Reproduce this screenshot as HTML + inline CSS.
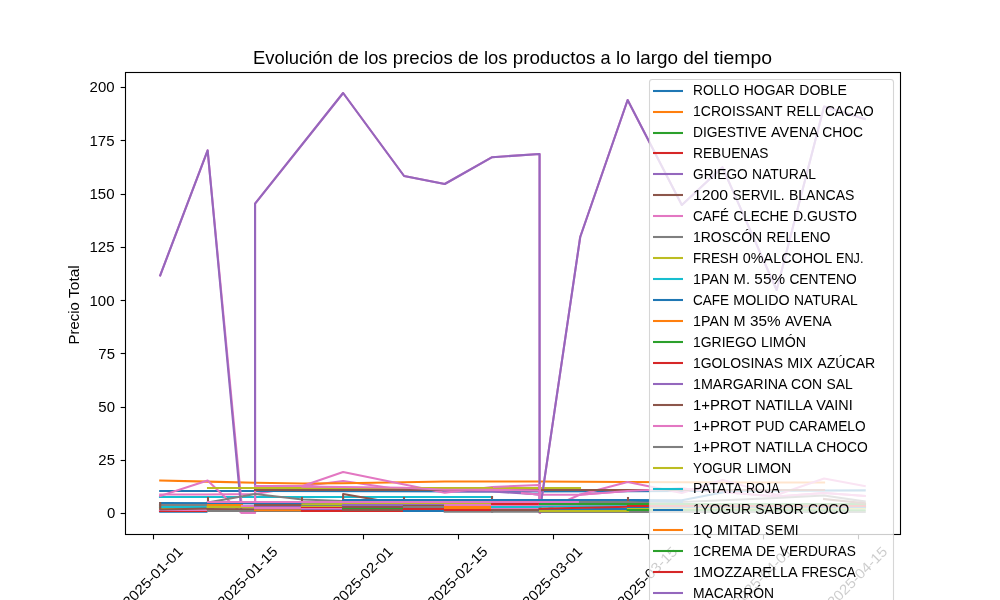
<!DOCTYPE html>
<html lang="es"><head><meta charset="utf-8"><title>Evolución de los precios de los productos a lo largo del tiempo</title>
<style>
html,body{margin:0;padding:0;background:#fff;}
body{width:1000px;height:600px;overflow:hidden;font-family:"Liberation Sans",sans-serif;}
svg{display:block;will-change:transform;}
text{font-family:"Liberation Sans",sans-serif;fill:#000;}
.t10{font-size:14.15px;}
.t12{font-size:17.70px;}
.ln{fill:none;stroke-width:2.083;stroke-linejoin:round;stroke-linecap:square;}
.lh{fill:none;stroke-width:2.083;stroke-linecap:square;}
.tk{stroke:#000;stroke-width:1.111;}
</style></head><body>
<svg width="1000" height="600" viewBox="0 0 1000 600">
<rect x="0" y="0" width="1000" height="600" fill="#ffffff"/>
<defs><clipPath id="ax"><rect x="125" y="72" width="775" height="462"/></clipPath></defs>
<g clip-path="url(#ax)">
<polyline class="ln" stroke="#e377c2" points="160.22,494.50 207.64,494.50 255.06,494.00 302.48,486.30 343.12,481.00 404.09,490.00 444.73,489.50 492.15,489.50 539.57,494.70 580.21,494.70 627.63,491.00 681.82,488.50 722.47,492.00 776.66,496.50 824.08,493.00 864.72,496.00"/>
<polyline class="ln" stroke="#ff7f0e" points="160.22,480.60 207.64,481.60 255.06,482.80 302.48,483.50 343.12,483.20 404.09,482.20 444.73,481.50 492.15,481.50 539.57,481.50 580.21,481.80 627.63,482.00 681.82,482.30 722.47,482.50 776.66,482.50 824.08,482.50"/>
<polyline class="ln" stroke="#1f77b4" points="160.22,491.00 255.06,491.00 492.15,491.40 627.63,491.30 864.72,490.40"/>
<polyline class="ln" stroke="#17becf" points="160.00,497.00 492.00,497.00"/>
<polyline class="ln" stroke="#bcbd22" points="492.00,488.00 580.00,488.00"/>
<polyline class="ln" stroke="#e377c2" points="160.22,275.30 207.64,150.40 241.76,505.80 255.06,505.80 255.06,203.70 343.12,93.00 404.09,176.00 444.73,184.00 492.15,157.20 539.57,154.00 539.57,512.50 580.21,237.00 627.63,100.00 681.82,205.00 722.47,167.30 776.66,290.00 824.08,106.50 864.72,119.00"/>
<polyline class="ln" stroke="#9467bd" points="160.22,275.30 207.64,150.40 241.51,512.30 255.06,512.30 255.06,203.70 343.12,93.00 404.09,176.00 444.73,184.00 492.15,157.20 539.57,154.00 539.57,512.50 580.21,237.00 627.63,100.00 681.82,205.00 722.47,167.30 776.66,290.00 824.08,106.50 864.72,119.00"/>
<polyline class="ln" stroke="#9467bd" points="444.73,491.50 492.15,491.50 539.57,494.50"/>
<polyline class="ln" stroke="#e377c2" points="160.22,496.00 207.64,480.50 241.51,513.00 255.06,513.00 255.06,486.00 302.48,486.00 343.12,472.00 444.73,492.70 492.15,487.00 539.57,485.00 539.57,512.60 580.21,494.50 627.63,482.00 681.82,493.00 722.47,480.00 776.66,495.00 824.08,478.50 864.72,486.00"/>
<polyline class="ln" stroke="#bcbd22" points="208.00,488.00 492.00,488.00"/>
<polyline class="ln" stroke="#8c564b" points="255.00,490.00 824.00,490.00"/>
<polyline class="ln" stroke="#e377c2" points="580.21,494.70 627.63,491.00 681.82,488.50 722.47,492.00 776.66,496.50 824.08,493.00 864.72,496.00"/>
<polyline class="ln" stroke="#e377c2" points="522.00,493.00 539.57,494.70"/>
<polyline class="ln" stroke="#e377c2" points="540.00,485.00 540.00,513.00"/>
<polyline class="ln" stroke="#7f7f7f" points="207.64,502.50 255.06,494.00 302.48,499.50 343.12,501.00 404.09,502.00 580.21,502.00 681.82,502.00 776.66,498.00 824.08,495.50 864.72,501.50"/>
<polyline class="ln" stroke="#e377c2" points="302.48,486.60 343.12,487.00 404.09,487.80 444.73,489.70 492.15,489.90 539.57,490.60"/>
<polyline class="ln" stroke="#8c564b" points="208.00,503.00 208.00,498.00"/>
<polyline class="ln" stroke="#8c564b" points="302.00,500.00 302.00,498.00"/>
<polyline class="ln" stroke="#8c564b" points="343.12,500.00 343.12,494.00 404.09,504.50"/>
<polyline class="ln" stroke="#8c564b" points="404.00,499.00 404.00,498.00"/>
<polyline class="ln" stroke="#8c564b" points="492.00,498.00 492.00,497.00"/>
<polyline class="ln" stroke="#1f77b4" points="160.22,503.00 302.48,503.30 343.12,503.30 343.12,500.00 627.63,500.00 681.82,500.30 722.47,492.50"/>
<polyline class="ln" stroke="#1f77b4" points="627.63,500.00 681.82,502.00"/>
<polyline class="ln" stroke="#1f77b4" points="160.22,511.80 206.44,511.81"/>
<polyline class="ln" stroke="#d62728" points="160.00,511.00 208.00,511.00"/>
<polyline class="ln" stroke="#e377c2" points="160.00,510.00 208.00,510.00"/>
<polyline class="ln" stroke="#bcbd22" points="160.00,508.00 208.00,508.00"/>
<polyline class="ln" stroke="#7f7f7f" points="160.00,505.00 208.00,505.00"/>
<polyline class="ln" stroke="#17becf" points="160.00,507.00 208.00,507.00"/>
<polyline class="ln" stroke="#8c564b" points="160.22,503.00 160.22,509.50 207.64,508.60"/>
<polyline class="ln" stroke="#ff7f0e" points="208.00,505.00 242.00,505.00"/>
<polyline class="ln" stroke="#bcbd22" points="207.64,506.90 255.06,507.10"/>
<polyline class="ln" stroke="#8c564b" points="207.64,509.00 255.06,509.20"/>
<polyline class="ln" stroke="#7f7f7f" points="208.00,511.00 255.00,511.00"/>
<polyline class="ln" stroke="#e377c2" points="242.00,506.00 255.00,506.00"/>
<polyline class="ln" stroke="#1f77b4" points="255.00,511.00 302.00,511.00"/>
<polyline class="ln" stroke="#8c564b" points="255.00,505.00 302.00,505.00"/>
<polyline class="ln" stroke="#9467bd" points="255.00,507.00 302.00,507.00"/>
<polyline class="ln" stroke="#7f7f7f" points="255.00,509.00 302.00,509.00"/>
<polyline class="ln" stroke="#e377c2" points="255.00,508.00 302.00,508.00"/>
<polyline class="ln" stroke="#ff7f0e" points="255.06,510.50 302.48,510.51"/>
<polyline class="ln" stroke="#bcbd22" points="302.48,504.20 343.12,504.00"/>
<polyline class="ln" stroke="#7f7f7f" points="302.00,506.00 343.00,506.00"/>
<polyline class="ln" stroke="#bcbd22" points="302.00,507.00 343.00,507.00"/>
<polyline class="ln" stroke="#d62728" points="302.00,508.00 343.00,508.00"/>
<polyline class="ln" stroke="#e377c2" points="302.00,509.00 343.00,509.00"/>
<polyline class="ln" stroke="#9467bd" points="302.00,510.00 343.00,510.00"/>
<polyline class="ln" stroke="#d62728" points="302.00,511.00 343.00,511.00"/>
<polyline class="ln" stroke="#bcbd22" points="343.12,503.50 492.15,503.30"/>
<polyline class="ln" stroke="#d62728" points="343.00,511.00 404.00,511.00"/>
<polyline class="ln" stroke="#2ca02c" points="343.00,508.00 404.00,508.00"/>
<polyline class="ln" stroke="#9467bd" points="343.00,505.00 404.00,505.00"/>
<polyline class="ln" stroke="#8c564b" points="343.00,507.00 404.00,507.00"/>
<polyline class="ln" stroke="#8c564b" points="343.00,510.00 404.00,510.00"/>
<polyline class="ln" stroke="#9467bd" points="404.00,505.00 445.00,505.00"/>
<polyline class="ln" stroke="#8c564b" points="404.00,506.00 445.00,506.00"/>
<polyline class="ln" stroke="#7f7f7f" points="404.00,507.00 445.00,507.00"/>
<polyline class="ln" stroke="#d62728" points="404.00,509.00 445.00,509.00"/>
<polyline class="ln" stroke="#1f77b4" points="404.00,511.00 445.00,511.00"/>
<polyline class="ln" stroke="#7f7f7f" points="444.73,511.60 492.15,511.61"/>
<polyline class="ln" stroke="#e377c2" points="445.00,505.00 492.00,505.00"/>
<polyline class="ln" stroke="#ff7f0e" points="445.00,507.00 492.00,507.00"/>
<polyline class="ln" stroke="#ff7f0e" points="445.00,508.00 492.00,508.00"/>
<polyline class="ln" stroke="#d62728" points="445.00,510.00 492.00,510.00"/>
<polyline class="ln" stroke="#7f7f7f" points="492.15,511.60 539.57,511.61"/>
<polyline class="ln" stroke="#e377c2" points="492.00,505.00 540.00,505.00"/>
<polyline class="ln" stroke="#e377c2" points="492.00,509.00 540.00,509.00"/>
<polyline class="ln" stroke="#d62728" points="492.00,504.00 540.00,504.00"/>
<polyline class="ln" stroke="#17becf" points="492.00,507.00 540.00,507.00"/>
<polyline class="ln" stroke="#8c564b" points="492.00,510.00 540.00,510.00"/>
<polyline class="ln" stroke="#7f7f7f" points="539.57,512.00 864.72,511.90"/>
<polyline class="ln" stroke="#e377c2" points="539.57,505.60 627.63,505.40"/>
<polyline class="ln" stroke="#17becf" points="539.57,506.80 627.63,506.40"/>
<polyline class="ln" stroke="#1f77b4" points="539.57,509.60 627.63,508.90"/>
<polyline class="ln" stroke="#d62728" points="539.57,508.70 627.63,506.80"/>
<polyline class="ln" stroke="#bcbd22" points="540.00,511.00 628.00,511.00"/>
<polyline class="ln" stroke="#2ca02c" points="540.00,504.00 865.00,504.00"/>
<polyline class="ln" stroke="#bcbd22" points="628.00,508.00 865.00,508.00"/>
<polyline class="ln" stroke="#1f77b4" points="628.00,507.00 865.00,507.00"/>
<polyline class="ln" stroke="#2ca02c" points="627.63,510.00 864.72,510.20"/>
<polyline class="ln" stroke="#d62728" points="628.00,506.00 865.00,506.00"/>
<polyline class="ln" stroke="#2ca02c" points="628.00,504.00 865.00,504.00"/>
<polyline class="ln" stroke="#8c564b" points="628.00,501.00 628.00,498.00"/>
<polyline class="ln" stroke="#8c564b" points="824.08,499.00 864.72,503.30"/>
<polyline class="ln" stroke="#e377c2" points="208.00,502.00 580.00,502.00"/>
<polyline class="ln" stroke="#7f7f7f" points="580.00,502.00 628.00,502.00"/>
</g>
<g>
<line class="tk" x1="153.50" y1="534.5" x2="153.50" y2="539.36"/>
<line class="tk" x1="248.50" y1="534.5" x2="248.50" y2="539.36"/>
<line class="tk" x1="363.50" y1="534.5" x2="363.50" y2="539.36"/>
<line class="tk" x1="458.50" y1="534.5" x2="458.50" y2="539.36"/>
<line class="tk" x1="553.50" y1="534.5" x2="553.50" y2="539.36"/>
<line class="tk" x1="648.50" y1="534.5" x2="648.50" y2="539.36"/>
<line class="tk" x1="763.50" y1="534.5" x2="763.50" y2="539.36"/>
<line class="tk" x1="858.50" y1="534.5" x2="858.50" y2="539.36"/>
<line class="tk" x1="120.64" y1="513.50" x2="125.5" y2="513.50"/>
<line class="tk" x1="120.64" y1="460.50" x2="125.5" y2="460.50"/>
<line class="tk" x1="120.64" y1="407.50" x2="125.5" y2="407.50"/>
<line class="tk" x1="120.64" y1="353.50" x2="125.5" y2="353.50"/>
<line class="tk" x1="120.64" y1="300.50" x2="125.5" y2="300.50"/>
<line class="tk" x1="120.64" y1="247.50" x2="125.5" y2="247.50"/>
<line class="tk" x1="120.64" y1="194.50" x2="125.5" y2="194.50"/>
<line class="tk" x1="120.64" y1="140.50" x2="125.5" y2="140.50"/>
<line class="tk" x1="120.64" y1="87.50" x2="125.5" y2="87.50"/>
</g>
<rect x="125.5" y="72.5" width="775" height="462" fill="none" stroke="#000" stroke-width="1.111"/>
<g class="t10">
<text transform="translate(128.40,607.67) rotate(-45)" textLength="78.2" lengthAdjust="spacingAndGlyphs">2025-01-01</text>
<text transform="translate(223.24,607.67) rotate(-45)" textLength="78.2" lengthAdjust="spacingAndGlyphs">2025-01-15</text>
<text transform="translate(338.39,607.67) rotate(-45)" textLength="78.2" lengthAdjust="spacingAndGlyphs">2025-02-01</text>
<text transform="translate(433.23,607.67) rotate(-45)" textLength="78.2" lengthAdjust="spacingAndGlyphs">2025-02-15</text>
<text transform="translate(528.07,607.67) rotate(-45)" textLength="78.2" lengthAdjust="spacingAndGlyphs">2025-03-01</text>
<text transform="translate(622.90,607.67) rotate(-45)" textLength="78.2" lengthAdjust="spacingAndGlyphs">2025-03-15</text>
<text transform="translate(738.06,607.67) rotate(-45)" textLength="78.2" lengthAdjust="spacingAndGlyphs">2025-04-01</text>
<text transform="translate(832.90,607.67) rotate(-45)" textLength="78.2" lengthAdjust="spacingAndGlyphs">2025-04-15</text>
<text x="107.13" y="518.00" textLength="8.31" lengthAdjust="spacingAndGlyphs">0</text>
<text x="98.38" y="465.00" textLength="16.62" lengthAdjust="spacingAndGlyphs">25</text>
<text x="98.38" y="412.00" textLength="16.62" lengthAdjust="spacingAndGlyphs">50</text>
<text x="98.38" y="359.00" textLength="16.62" lengthAdjust="spacingAndGlyphs">75</text>
<text x="89.50" y="306.00" textLength="25.06" lengthAdjust="spacingAndGlyphs">100</text>
<text x="89.50" y="252.00" textLength="25.06" lengthAdjust="spacingAndGlyphs">125</text>
<text x="89.50" y="199.00" textLength="25.06" lengthAdjust="spacingAndGlyphs">150</text>
<text x="89.50" y="146.00" textLength="25.06" lengthAdjust="spacingAndGlyphs">175</text>
<text x="89.63" y="92.00" textLength="24.94" lengthAdjust="spacingAndGlyphs">200</text>
<text transform="translate(79.4,344.4) rotate(-90)"><tspan x="0.00" textLength="42.12" lengthAdjust="spacingAndGlyphs">Precio</tspan> <tspan x="46.50" textLength="32.62" lengthAdjust="spacingAndGlyphs">Total</tspan></text>
</g>
<text class="t12" y="63.67"><tspan x="252.94" textLength="79.88" lengthAdjust="spacingAndGlyphs">Evolución</tspan> <tspan x="338.06" textLength="20.75" lengthAdjust="spacingAndGlyphs">de</tspan> <tspan x="364.06" textLength="23.50" lengthAdjust="spacingAndGlyphs">los</tspan> <tspan x="392.82" textLength="59.88" lengthAdjust="spacingAndGlyphs">precios</tspan> <tspan x="457.94" textLength="20.75" lengthAdjust="spacingAndGlyphs">de</tspan> <tspan x="483.94" textLength="23.50" lengthAdjust="spacingAndGlyphs">los</tspan> <tspan x="512.69" textLength="82.62" lengthAdjust="spacingAndGlyphs">productos</tspan> <tspan x="600.56" textLength="10.12" lengthAdjust="spacingAndGlyphs">a</tspan> <tspan x="615.94" textLength="14.75" lengthAdjust="spacingAndGlyphs">lo</tspan> <tspan x="635.94" textLength="42.00" lengthAdjust="spacingAndGlyphs">largo</tspan> <tspan x="683.19" textLength="25.38" lengthAdjust="spacingAndGlyphs">del</tspan> <tspan x="713.82" textLength="58.25" lengthAdjust="spacingAndGlyphs">tiempo</tspan></text>
<rect x="649.5" y="79.5" width="244" height="560" rx="2.78" ry="2.78" fill="#ffffff" fill-opacity="0.8" stroke="#cccccc" stroke-opacity="0.8" stroke-width="1.111"/>
<g>
<line class="lh" stroke="#1f77b4" x1="654.04" y1="91.00" x2="681.96" y2="91.00"/>
<line class="lh" stroke="#ff7f0e" x1="654.04" y1="112.00" x2="681.96" y2="112.00"/>
<line class="lh" stroke="#2ca02c" x1="654.04" y1="133.00" x2="681.96" y2="133.00"/>
<line class="lh" stroke="#d62728" x1="654.04" y1="153.00" x2="681.96" y2="153.00"/>
<line class="lh" stroke="#9467bd" x1="654.04" y1="174.00" x2="681.96" y2="174.00"/>
<line class="lh" stroke="#8c564b" x1="654.04" y1="195.00" x2="681.96" y2="195.00"/>
<line class="lh" stroke="#e377c2" x1="654.04" y1="216.00" x2="681.96" y2="216.00"/>
<line class="lh" stroke="#7f7f7f" x1="654.04" y1="237.00" x2="681.96" y2="237.00"/>
<line class="lh" stroke="#bcbd22" x1="654.04" y1="258.00" x2="681.96" y2="258.00"/>
<line class="lh" stroke="#17becf" x1="654.04" y1="279.00" x2="681.96" y2="279.00"/>
<line class="lh" stroke="#1f77b4" x1="654.04" y1="300.00" x2="681.96" y2="300.00"/>
<line class="lh" stroke="#ff7f0e" x1="654.04" y1="321.00" x2="681.96" y2="321.00"/>
<line class="lh" stroke="#2ca02c" x1="654.04" y1="342.00" x2="681.96" y2="342.00"/>
<line class="lh" stroke="#d62728" x1="654.04" y1="363.00" x2="681.96" y2="363.00"/>
<line class="lh" stroke="#9467bd" x1="654.04" y1="384.00" x2="681.96" y2="384.00"/>
<line class="lh" stroke="#8c564b" x1="654.04" y1="405.00" x2="681.96" y2="405.00"/>
<line class="lh" stroke="#e377c2" x1="654.04" y1="426.00" x2="681.96" y2="426.00"/>
<line class="lh" stroke="#7f7f7f" x1="654.04" y1="447.00" x2="681.96" y2="447.00"/>
<line class="lh" stroke="#bcbd22" x1="654.04" y1="468.00" x2="681.96" y2="468.00"/>
<line class="lh" stroke="#17becf" x1="654.04" y1="489.00" x2="681.96" y2="489.00"/>
<line class="lh" stroke="#1f77b4" x1="654.04" y1="510.00" x2="681.96" y2="510.00"/>
<line class="lh" stroke="#ff7f0e" x1="654.04" y1="530.00" x2="681.96" y2="530.00"/>
<line class="lh" stroke="#2ca02c" x1="654.04" y1="551.00" x2="681.96" y2="551.00"/>
<line class="lh" stroke="#d62728" x1="654.04" y1="572.00" x2="681.96" y2="572.00"/>
<line class="lh" stroke="#9467bd" x1="654.04" y1="593.00" x2="681.96" y2="593.00"/>
</g>
<g class="t10">
<text y="95.00"><tspan x="693.00" textLength="46.38" lengthAdjust="spacingAndGlyphs">ROLLO</tspan> <tspan x="743.75" textLength="51.12" lengthAdjust="spacingAndGlyphs">HOGAR</tspan> <tspan x="799.25" textLength="47.75" lengthAdjust="spacingAndGlyphs">DOBLE</tspan></text>
<text y="116.00"><tspan x="693.00" textLength="89.25" lengthAdjust="spacingAndGlyphs">1CROISSANT</tspan> <tspan x="786.62" textLength="33.88" lengthAdjust="spacingAndGlyphs">RELL</tspan> <tspan x="824.88" textLength="48.88" lengthAdjust="spacingAndGlyphs">CACAO</tspan></text>
<text y="137.00"><tspan x="693.00" textLength="73.75" lengthAdjust="spacingAndGlyphs">DIGESTIVE</tspan> <tspan x="771.12" textLength="46.75" lengthAdjust="spacingAndGlyphs">AVENA</tspan> <tspan x="822.25" textLength="40.75" lengthAdjust="spacingAndGlyphs">CHOC</tspan></text>
<text y="158.00"><tspan x="693.00" textLength="75.50" lengthAdjust="spacingAndGlyphs">REBUENAS</tspan></text>
<text y="179.00"><tspan x="693.00" textLength="54.75" lengthAdjust="spacingAndGlyphs">GRIEGO</tspan> <tspan x="752.12" textLength="63.75" lengthAdjust="spacingAndGlyphs">NATURAL</tspan></text>
<text y="200.00"><tspan x="693.00" textLength="35.12" lengthAdjust="spacingAndGlyphs">1200</tspan> <tspan x="732.50" textLength="52.00" lengthAdjust="spacingAndGlyphs">SERVIL.</tspan> <tspan x="788.88" textLength="65.62" lengthAdjust="spacingAndGlyphs">BLANCAS</tspan></text>
<text y="221.00"><tspan x="693.00" textLength="36.00" lengthAdjust="spacingAndGlyphs">CAFÉ</tspan> <tspan x="733.38" textLength="55.12" lengthAdjust="spacingAndGlyphs">CLECHE</tspan> <tspan x="792.88" textLength="64.12" lengthAdjust="spacingAndGlyphs">D.GUSTO</tspan></text>
<text y="242.00"><tspan x="693.00" textLength="69.12" lengthAdjust="spacingAndGlyphs">1ROSCÓN</tspan> <tspan x="766.50" textLength="63.88" lengthAdjust="spacingAndGlyphs">RELLENO</tspan></text>
<text y="263.00"><tspan x="693.00" textLength="45.50" lengthAdjust="spacingAndGlyphs">FRESH</tspan> <tspan x="742.88" textLength="88.75" lengthAdjust="spacingAndGlyphs">0%ALCOHOL</tspan> <tspan x="836.00" textLength="27.50" lengthAdjust="spacingAndGlyphs">ENJ.</tspan></text>
<text y="284.00"><tspan x="693.00" textLength="36.25" lengthAdjust="spacingAndGlyphs">1PAN</tspan> <tspan x="733.62" textLength="16.38" lengthAdjust="spacingAndGlyphs">M.</tspan> <tspan x="754.38" textLength="30.62" lengthAdjust="spacingAndGlyphs">55%</tspan> <tspan x="789.38" textLength="67.38" lengthAdjust="spacingAndGlyphs">CENTENO</tspan></text>
<text y="305.00"><tspan x="693.00" textLength="36.00" lengthAdjust="spacingAndGlyphs">CAFE</tspan> <tspan x="733.38" textLength="56.25" lengthAdjust="spacingAndGlyphs">MOLIDO</tspan> <tspan x="794.00" textLength="63.75" lengthAdjust="spacingAndGlyphs">NATURAL</tspan></text>
<text y="326.00"><tspan x="693.00" textLength="36.25" lengthAdjust="spacingAndGlyphs">1PAN</tspan> <tspan x="733.62" textLength="12.00" lengthAdjust="spacingAndGlyphs">M</tspan> <tspan x="750.00" textLength="30.62" lengthAdjust="spacingAndGlyphs">35%</tspan> <tspan x="785.00" textLength="46.75" lengthAdjust="spacingAndGlyphs">AVENA</tspan></text>
<text y="347.00"><tspan x="693.00" textLength="63.62" lengthAdjust="spacingAndGlyphs">1GRIEGO</tspan> <tspan x="761.00" textLength="45.00" lengthAdjust="spacingAndGlyphs">LIMÓN</tspan></text>
<text y="368.00"><tspan x="693.00" textLength="90.00" lengthAdjust="spacingAndGlyphs">1GOLOSINAS</tspan> <tspan x="787.38" textLength="25.50" lengthAdjust="spacingAndGlyphs">MIX</tspan> <tspan x="817.25" textLength="58.00" lengthAdjust="spacingAndGlyphs">AZÚCAR</tspan></text>
<text y="389.00"><tspan x="693.00" textLength="93.75" lengthAdjust="spacingAndGlyphs">1MARGARINA</tspan> <tspan x="791.12" textLength="31.00" lengthAdjust="spacingAndGlyphs">CON</tspan> <tspan x="826.50" textLength="26.25" lengthAdjust="spacingAndGlyphs">SAL</tspan></text>
<text y="410.00"><tspan x="693.00" textLength="57.88" lengthAdjust="spacingAndGlyphs">1+PROT</tspan> <tspan x="755.25" textLength="56.62" lengthAdjust="spacingAndGlyphs">NATILLA</tspan> <tspan x="816.25" textLength="36.50" lengthAdjust="spacingAndGlyphs">VAINI</tspan></text>
<text y="431.00"><tspan x="693.00" textLength="57.88" lengthAdjust="spacingAndGlyphs">1+PROT</tspan> <tspan x="755.25" textLength="29.25" lengthAdjust="spacingAndGlyphs">PUD</tspan> <tspan x="788.88" textLength="76.75" lengthAdjust="spacingAndGlyphs">CARAMELO</tspan></text>
<text y="452.00"><tspan x="693.00" textLength="57.88" lengthAdjust="spacingAndGlyphs">1+PROT</tspan> <tspan x="755.25" textLength="56.62" lengthAdjust="spacingAndGlyphs">NATILLA</tspan> <tspan x="816.25" textLength="51.62" lengthAdjust="spacingAndGlyphs">CHOCO</tspan></text>
<text y="473.00"><tspan x="693.00" textLength="49.00" lengthAdjust="spacingAndGlyphs">YOGUR</tspan> <tspan x="746.38" textLength="45.00" lengthAdjust="spacingAndGlyphs">LIMON</tspan></text>
<text y="493.00"><tspan x="693.00" textLength="48.50" lengthAdjust="spacingAndGlyphs">PATATA</tspan> <tspan x="745.88" textLength="33.75" lengthAdjust="spacingAndGlyphs">ROJA</tspan></text>
<text y="514.00"><tspan x="693.00" textLength="57.88" lengthAdjust="spacingAndGlyphs">1YOGUR</tspan> <tspan x="755.25" textLength="48.38" lengthAdjust="spacingAndGlyphs">SABOR</tspan> <tspan x="808.00" textLength="41.25" lengthAdjust="spacingAndGlyphs">COCO</tspan></text>
<text y="535.00"><tspan x="693.00" textLength="19.75" lengthAdjust="spacingAndGlyphs">1Q</tspan> <tspan x="717.12" textLength="43.62" lengthAdjust="spacingAndGlyphs">MITAD</tspan> <tspan x="765.12" textLength="33.50" lengthAdjust="spacingAndGlyphs">SEMI</tspan></text>
<text y="556.00"><tspan x="693.00" textLength="58.50" lengthAdjust="spacingAndGlyphs">1CREMA</tspan> <tspan x="755.88" textLength="19.50" lengthAdjust="spacingAndGlyphs">DE</tspan> <tspan x="779.75" textLength="76.12" lengthAdjust="spacingAndGlyphs">VERDURAS</tspan></text>
<text y="577.00"><tspan x="693.00" textLength="104.00" lengthAdjust="spacingAndGlyphs">1MOZZARELLA</tspan> <tspan x="801.38" textLength="54.38" lengthAdjust="spacingAndGlyphs">FRESCA</tspan></text>
<text y="598.00"><tspan x="693.00" textLength="81.00" lengthAdjust="spacingAndGlyphs">MACARRÓN</tspan></text>
</g>
</svg>
</body></html>
